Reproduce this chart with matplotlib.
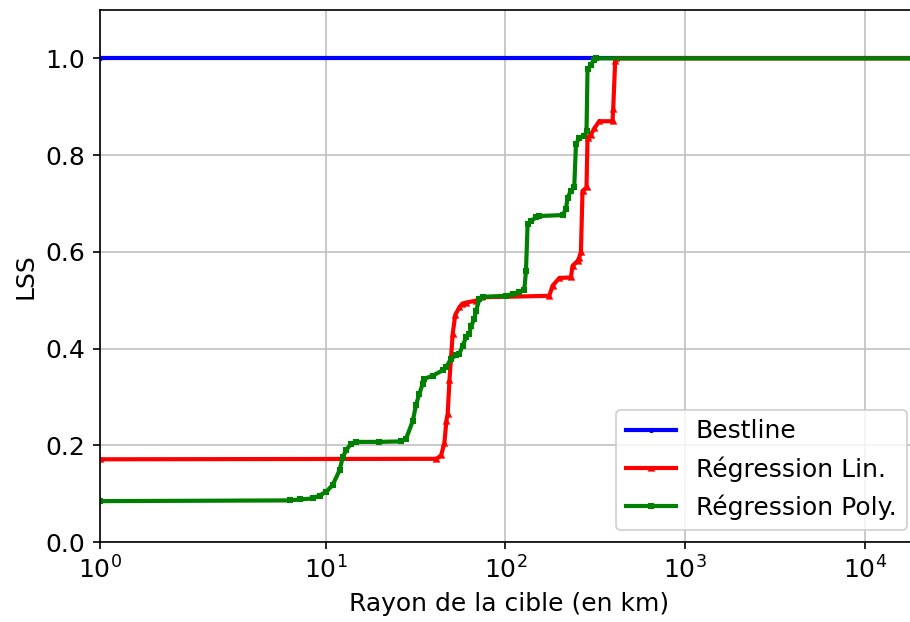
import matplotlib
matplotlib.use("Agg")
import matplotlib.pyplot as plt
from matplotlib.ticker import FixedLocator, NullLocator, FixedFormatter

# Rayon de la cible (km) et LSS pour chaque methode
x_best = [1.0, 20000.0]
y_best = [1.0, 1.0]

x_lin = [1.0, 41.4, 43.9, 45.8, 47.0, 47.8, 48.9, 50.95, 52.7, 55.5, 57.7,
         60.5, 68.7, 73.3, 175.6, 183.2, 200.0, 231.7, 236.5, 252.2, 257.7,
         263.3, 268.8, 282.9, 286.6, 299.2, 312.2, 332.9, 394.8, 398.1,
         408.4, 413.9, 20000.0]
y_lin = [0.171, 0.172, 0.179, 0.204, 0.25, 0.265, 0.334, 0.43, 0.47, 0.485,
         0.493, 0.495, 0.499, 0.506, 0.509, 0.53, 0.546, 0.547, 0.571, 0.581,
         0.588, 0.60, 0.726, 0.733, 0.836, 0.842, 0.855, 0.870, 0.870, 0.895,
         0.994, 1.0, 1.0]

x_poly = [1.0, 6.31, 7.17, 8.47, 9.26, 10.09, 10.94, 11.96, 12.48, 13.03,
          13.89, 14.81, 19.95, 26.35, 28.08, 30.55, 31.9, 33.3, 34.7, 35.5,
          39.5, 44.9, 46.8, 49.9, 53.2, 55.5, 57.9, 60.5, 63.1, 64.5, 67.3,
          68.7, 71.7, 74.8, 100.9, 109.8, 119.6, 127.5, 130.3, 133.0, 139.0,
          148.1, 154.5, 208.1, 217.4, 221.9, 231.7, 241.7, 247.1, 257.7,
          274.7, 282.9, 286.6, 299.2, 312.2, 320.4, 20000.0]
y_poly = [0.0845, 0.086, 0.088, 0.090, 0.096, 0.104, 0.1175, 0.148, 0.176,
          0.19, 0.2035, 0.207, 0.207, 0.208, 0.214, 0.25, 0.284, 0.307, 0.327,
          0.3375, 0.344, 0.355, 0.361, 0.379, 0.386, 0.389, 0.406, 0.423,
          0.43, 0.447, 0.461, 0.478, 0.502, 0.507, 0.509, 0.513, 0.516, 0.522,
          0.56, 0.657, 0.664, 0.671, 0.674, 0.676, 0.688, 0.712, 0.726, 0.733,
          0.822, 0.836, 0.839, 0.849, 0.977, 0.987, 0.997, 1.0, 1.0]

xticks = [1, 10, 100, 1000, 10000]
xticklabels = ["$10^{0}$", "$10^{1}$", "$10^{2}$", "$10^{3}$", "$10^{4}$"]
yticks = [0.0, 0.2, 0.4, 0.6, 0.8, 1.0]

plt.rcParams['font.size'] = 12
fig = plt.figure(figsize=(910 / 150, 622 / 150), dpi=150)
# axes runs slightly past the right edge of the figure (right spine cut off)
ax = fig.add_axes([100 / 910, 80 / 622, 819 / 910, 532 / 622])

ax.plot(x_best, y_best, color='b', marker='.', markersize=3, lw=2, label='Bestline')
ax.plot(x_lin, y_lin, color='r', marker='^', markersize=2, lw=2, label='Régression Lin.')
ax.plot(x_poly, y_poly, color='g', marker='s', markersize=2, lw=2, label='Régression Poly.')

ax.set_xscale('symlog', linthresh=2)
ax.set_xlim(1, 20000)
ax.set_ylim(0, 1.1)
ax.xaxis.set_major_locator(FixedLocator(xticks))
ax.xaxis.set_major_formatter(FixedFormatter(xticklabels))
ax.xaxis.set_minor_locator(NullLocator())
ax.set_yticks(yticks)
ax.grid(True, lw=0.8, color='#c0c0c0')
ax.set_axisbelow(True)

ax.set_xlabel('Rayon de la cible (en km)')
ax.set_ylabel('LSS')
ax.legend(loc='lower right')

fig.savefig('out.png', dpi=150)
